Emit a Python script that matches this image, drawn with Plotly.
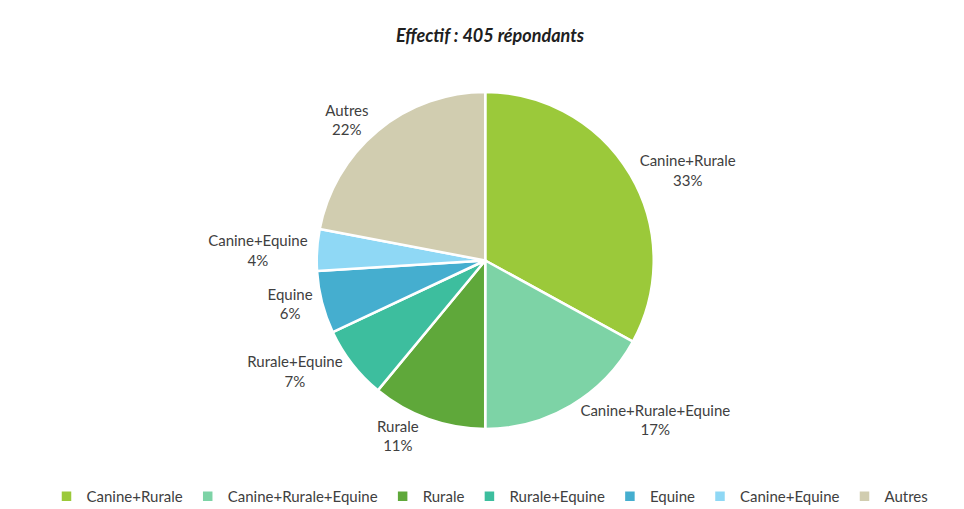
import plotly.graph_objects as go

categories = ["Canine+Rurale", "Canine+Rurale+Equine", "Rurale", "Rurale+Equine",
              "Equine", "Canine+Equine", "Autres"]
shares = [33, 17, 11, 7, 6, 4, 22]
colors = ["#9BC93A", "#7DD3A6", "#5FA83A", "#3DBE9E", "#45AECF", "#8FD8F5", "#D1CDB0"]

fig = go.Figure(go.Pie(
    labels=categories,
    values=shares,
    sort=False,
    direction="clockwise",
    rotation=0,
    marker=dict(colors=colors, line=dict(color="white", width=2.5)),
    textposition="outside",
    texttemplate="%{label}<br>%{percent:.0%}",
    textfont=dict(family="Lato", size=15, color="#404040"),
    domain=dict(x=[0, 0.99], y=[0, 1]),
    hoverinfo="label+percent",
))

fig.update_layout(
    width=964,
    height=509,
    paper_bgcolor="white",
    plot_bgcolor="white",
    margin=dict(l=5, r=5, t=84, b=88, autoexpand=False),
    title=dict(
        text="<b><i>Effectif : 405 répondants</i></b>",
        x=0.5, xanchor="center", y=0.945, yanchor="middle",
        font=dict(family="Lato", size=18, color="#202020"),
    ),
    showlegend=True,
    legend=dict(
        orientation="h",
        x=0.5, xanchor="center",
        y=-0.2, yanchor="middle",
        font=dict(family="Lato", size=15, color="#404040"),
        itemwidth=30,
        traceorder="normal",
    ),
)

fig.write_html("out.html")
